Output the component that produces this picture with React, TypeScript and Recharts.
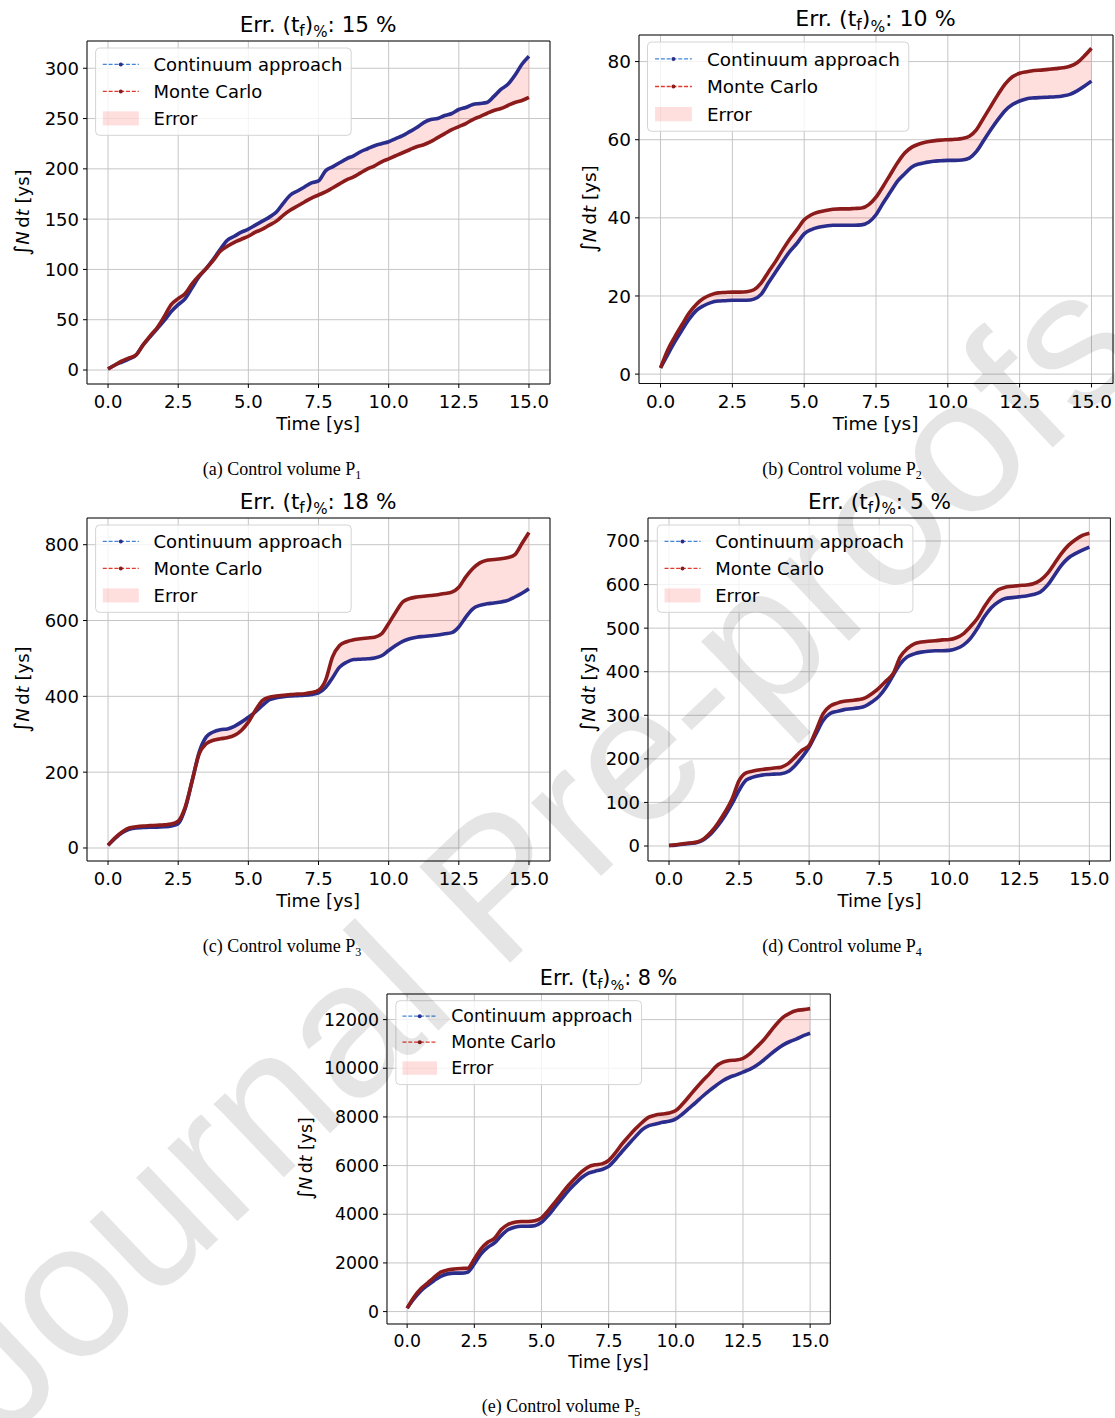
import { ComposedChart, Line, Area, XAxis, YAxis, CartesianGrid, ReferenceArea } from 'recharts';

// sample times [ys]
const TIME = [
  0, 0.25, 0.5, 0.75, 1, 1.25, 1.5, 1.75, 2, 2.25, 2.5, 2.75, 3, 3.25, 3.5, 3.75,
  4, 4.25, 4.5, 4.75, 5, 5.25, 5.5, 5.75, 6, 6.25, 6.5, 6.75, 7, 7.25, 7.5, 7.75,
  8, 8.25, 8.5, 8.75, 9, 9.25, 9.5, 9.75, 10, 10.25, 10.5, 10.75, 11, 11.25, 11.5, 11.75,
  12, 12.25, 12.5, 12.75, 13, 13.25, 13.5, 13.75, 14, 14.25, 14.5, 14.75, 15,
];

// P1
const P1_CONTINUUM = [
  1, 5, 8, 11, 15, 25, 33, 41, 49, 58, 65, 71, 82, 93, 101, 110,
  120, 129, 133, 137, 140, 144, 148, 152, 157, 166, 174, 178, 182, 186, 188, 198,
  202, 206, 210, 213, 217, 220, 223, 225, 227, 230, 233, 237, 241, 246, 249, 250,
  253, 255, 259, 261, 264, 265, 266, 272, 279, 284, 293, 304, 312,
];
const P1_MONTE_CARLO = [
  1, 5, 9, 12, 15, 25, 34, 42, 53, 65, 71, 76, 86, 94, 101, 109,
  118, 123, 127, 130, 133, 137, 140, 144, 148, 154, 159, 163, 167, 171, 174, 177,
  181, 185, 189, 192, 196, 200, 203, 207, 210, 213, 216, 219, 222, 224, 227, 231,
  235, 239, 242, 245, 249, 252, 255, 258, 260, 263, 266, 268, 271,
];

// P2
const P2_CONTINUUM = [
  1.6, 5, 8.3, 11.3, 14.1, 16.3, 17.5, 18.3, 18.7, 18.8, 18.9, 18.9, 18.9, 19.2, 20.4, 23.3,
  26.1, 28.8, 31.4, 33.5, 35.9, 37, 37.6, 37.9, 38.1, 38.1, 38.1, 38.1, 38.2, 38.9, 40.8, 43.8,
  46.6, 49.4, 51.3, 53, 53.8, 54.2, 54.5, 54.6, 54.7, 54.7, 54.8, 55.3, 57, 59.8, 62.6, 65.2,
  67.5, 69, 69.9, 70.5, 70.7, 70.8, 70.9, 71, 71.2, 71.6, 72.5, 73.7, 75,
];
const P2_MONTE_CARLO = [
  1.6, 6.2, 9.6, 12.7, 15.7, 17.9, 19.4, 20.3, 20.8, 20.9, 21, 21, 21.1, 21.6, 23.3, 26.1,
  28.8, 31.8, 34.6, 37, 39.5, 40.8, 41.5, 41.9, 42.2, 42.3, 42.3, 42.4, 42.5, 43.4, 45.3, 48.1,
  51.1, 54.1, 56.6, 58.1, 58.9, 59.4, 59.7, 59.9, 60, 60.1, 60.3, 60.9, 62.6, 65.6, 68.6, 71.6,
  74.3, 76.1, 77, 77.4, 77.7, 77.8, 78, 78.2, 78.4, 78.8, 79.7, 81.4, 83.4,
];

// P3
const P3_CONTINUUM = [
  7, 25, 40, 49, 53, 54, 55, 55, 56, 58, 64, 104, 178, 253, 293, 306,
  312, 314, 321, 332, 345, 359, 376, 391, 396, 399, 401, 402, 403, 405, 409, 423,
  449, 477, 490, 497, 498, 499, 501, 507, 521, 534, 545, 552, 556, 558, 560, 562,
  565, 568, 583, 609, 631, 640, 644, 646, 649, 653, 662, 672, 684,
];
const P3_MONTE_CARLO = [
  7, 27, 42, 53, 56, 58, 59, 60, 61, 63, 71, 108, 178, 249, 275, 284,
  288, 291, 297, 310, 332, 363, 389, 398, 401, 403, 405, 406, 407, 410, 416, 442,
  504, 534, 544, 549, 552, 554, 556, 565, 592, 622, 649, 658, 662, 664, 666, 668,
  671, 675, 688, 715, 737, 752, 759, 761, 763, 766, 774, 803, 832,
];

// P4
const P4_CONTINUUM = [
  1, 2, 4, 6, 8, 15, 28, 47, 70, 97, 128, 151, 158, 162, 164, 165,
  166, 171, 185, 204, 227, 258, 288, 304, 309, 313, 315, 317, 321, 331, 344, 365,
  392, 418, 434, 441, 445, 447, 448, 448, 449, 453, 461, 476, 499, 526, 547, 560,
  568, 570, 572, 574, 577, 583, 598, 621, 644, 661, 671, 679, 686,
];
const P4_MONTE_CARLO = [
  1, 3, 5, 7, 9, 17, 32, 53, 78, 108, 150, 168, 172, 175, 177, 179,
  181, 189, 204, 220, 231, 266, 304, 321, 328, 332, 334, 336, 340, 350, 363, 379,
  396, 434, 453, 464, 468, 470, 471, 473, 474, 478, 487, 503, 522, 549, 572, 588,
  594, 596, 598, 599, 602, 610, 625, 648, 671, 690, 703, 713, 718,
];

// P5
const P5_CONTINUUM = [
  140, 520, 840, 1070, 1270, 1450, 1550, 1580, 1580, 1620, 1960, 2370, 2640, 2820, 3120, 3360,
  3470, 3510, 3510, 3530, 3670, 3950, 4290, 4630, 4960, 5250, 5510, 5690, 5770, 5840, 5970, 6250,
  6580, 6890, 7190, 7480, 7640, 7710, 7780, 7820, 7920, 8120, 8360, 8600, 8850, 9080, 9290, 9490,
  9630, 9730, 9840, 9950, 10110, 10320, 10550, 10770, 10960, 11100, 11210, 11340, 11440,
];
const P5_MONTE_CARLO = [
  140, 590, 930, 1160, 1410, 1620, 1710, 1750, 1770, 1780, 2160, 2580, 2850, 3010, 3370, 3580,
  3670, 3700, 3700, 3730, 3850, 4150, 4490, 4840, 5180, 5480, 5750, 5950, 6030, 6070, 6210, 6520,
  6890, 7210, 7510, 7780, 7990, 8080, 8120, 8160, 8260, 8530, 8850, 9180, 9490, 9770, 10080, 10250,
  10320, 10340, 10410, 10590, 10860, 11140, 11480, 11820, 12100, 12270, 12370, 12410, 12450,
];

const X_TICKS = [0, 2.5, 5, 7.5, 10, 12.5, 15];
const P1_Y_TICKS = [0, 50, 100, 150, 200, 250, 300];
const P2_Y_TICKS = [0, 20, 40, 60, 80];
const P3_Y_TICKS = [0, 200, 400, 600, 800];
const P4_Y_TICKS = [0, 100, 200, 300, 400, 500, 600, 700];
const P5_Y_TICKS = [0, 2000, 4000, 6000, 8000, 10000, 12000];

const ERR_PERCENT = ['15', '10', '18', '5', '8'];
const SERIES_NAMES = ['Continuum approach', 'Monte Carlo', 'Error'];

const FONT = '"DejaVu Sans", sans-serif';
const SERIF = '"Liberation Serif", "Times New Roman", serif';
const BLUE = '#2b2d8c';
const RED = '#8c1b1b';
const BLUE_DASH = '#4286d8';
const RED_DASH = '#e2392f';

const Y_AXIS_W = 90;
const M_TOP = 6;
const M_RIGHT = 6;
const X_AXIS_H = 36;

type PanelSpec = {
  tag: string;
  idx: string;
  err: string;
  continuum: number[];
  monteCarlo: number[];
  yTicks: number[];
  yDomain: [number, number];
  plot: { x: number; y: number; w: number; h: number };
  fs: number;
  yLabelX: number;
  caption: { x: number; y: number };
};

const PANELS: PanelSpec[] = [
  {
    tag: 'a', idx: '1', err: ERR_PERCENT[0], continuum: P1_CONTINUUM, monteCarlo: P1_MONTE_CARLO,
    yTicks: P1_Y_TICKS, yDomain: [-13.9, 327.1], plot: { x: 86.6, y: 41, w: 463, h: 343 },
    fs: 18, yLabelX: 29, caption: { x: 282, y: 475 },
  },
  {
    tag: 'b', idx: '2', err: ERR_PERCENT[1], continuum: P2_CONTINUUM, monteCarlo: P2_MONTE_CARLO,
    yTicks: P2_Y_TICKS, yDomain: [-2.4, 86.8], plot: { x: 638.5, y: 35, w: 474, h: 348.5 },
    fs: 18.4, yLabelX: 596, caption: { x: 842, y: 475 },
  },
  {
    tag: 'c', idx: '3', err: ERR_PERCENT[2], continuum: P3_CONTINUUM, monteCarlo: P3_MONTE_CARLO,
    yTicks: P3_Y_TICKS, yDomain: [-34.3, 870.4], plot: { x: 86.6, y: 518, w: 463, h: 343 },
    fs: 18, yLabelX: 29, caption: { x: 282, y: 952 },
  },
  {
    tag: 'd', idx: '4', err: ERR_PERCENT[3], continuum: P4_CONTINUUM, monteCarlo: P4_MONTE_CARLO,
    yTicks: P4_Y_TICKS, yDomain: [-34.4, 752.8], plot: { x: 648.3, y: 518, w: 462.4, h: 343 },
    fs: 18, yLabelX: 595, caption: { x: 842, y: 952 },
  },
  {
    tag: 'e', idx: '5', err: ERR_PERCENT[4], continuum: P5_CONTINUUM, monteCarlo: P5_MONTE_CARLO,
    yTicks: P5_Y_TICKS, yDomain: [-510, 13052], plot: { x: 386.9, y: 993.7, w: 443.3, h: 330 },
    fs: 17.3, yLabelX: 312, caption: { x: 561, y: 1412 },
  },
];

function PanelChart({ p }: { p: PanelSpec }) {
  const rows = TIME.map((t, i) => {
    const a = p.continuum[i];
    const b = p.monteCarlo[i];
    return { t, cont: a, mc: b, band: [Math.min(a, b), Math.max(a, b)] };
  });
  const tick = { fontSize: p.fs, fill: '#000', fontFamily: FONT };
  return (
    <div style={{ position: 'absolute', left: p.plot.x - Y_AXIS_W, top: p.plot.y - M_TOP }}>
      <ComposedChart
        width={p.plot.w + Y_AXIS_W + M_RIGHT}
        height={p.plot.h + M_TOP + X_AXIS_H}
        data={rows}
        margin={{ top: M_TOP, right: M_RIGHT, bottom: 0, left: 0 }}
      >
        <CartesianGrid stroke="#c6c6c6" strokeWidth={1} />
        <XAxis
          dataKey="t"
          type="number"
          domain={[-0.75, 15.75]}
          ticks={X_TICKS}
          interval={0}
          allowDataOverflow
          tickFormatter={(v: number) => v.toFixed(1)}
          tick={tick}
          tickSize={4}
          tickMargin={p.fs * 0.38}
          tickLine={{ stroke: '#000' }}
          axisLine={false}
          height={X_AXIS_H}
        />
        <YAxis
          type="number"
          domain={p.yDomain}
          ticks={p.yTicks}
          interval={0}
          allowDataOverflow
          tick={tick}
          tickSize={4}
          tickMargin={4}
          tickLine={{ stroke: '#000' }}
          axisLine={false}
          width={Y_AXIS_W}
        />
        <Area
          dataKey="band"
          type="monotone"
          stroke="none"
          fill="#ff0000"
          fillOpacity={0.13}
          activeDot={false}
          isAnimationActive={false}
        />
        <Line dataKey="cont" type="monotone" stroke={BLUE} strokeWidth={3.6} dot={false} activeDot={false} isAnimationActive={false} />
        <Line dataKey="mc" type="monotone" stroke={RED} strokeWidth={3.6} dot={false} activeDot={false} isAnimationActive={false} />
        <ReferenceArea
          x1={-0.75}
          x2={15.75}
          y1={p.yDomain[0]}
          y2={p.yDomain[1]}
          fill="none"
          stroke="#111"
          strokeWidth={1}
          ifOverflow="visible"
        />
      </ComposedChart>
    </div>
  );
}

function PanelText({ p }: { p: PanelSpec }) {
  const { x, y, w, h } = p.plot;
  const fs = p.fs;
  const tfs = fs * 1.2;
  const cx = x + w / 2;
  const cy = y + h / 2;
  const lx = x + 9;
  const ly = y + 7;
  // legend rows, measured from the top of the plot
  const rowY = [y + 1.3 * fs, y + 2.8 * fs, y + 4.3 * fs];
  const hx1 = x + 0.9 * fs;
  const hx2 = x + 2.9 * fs;
  const tx = x + 3.72 * fs;
  return (
    <g>
      {/* title */}
      <text x={cx} y={y - 9} textAnchor="middle" fontSize={tfs} fontFamily={FONT} fill="#000">
        Err. (t
        <tspan dy={tfs * 0.2} fontSize={tfs * 0.7}>f</tspan>
        <tspan dy={-tfs * 0.2}>)</tspan>
        <tspan dy={tfs * 0.25} fontSize={tfs * 0.7}>%</tspan>
        <tspan dy={-tfs * 0.25}>: {p.err} %</tspan>
      </text>

      {/* axis labels */}
      <text x={cx} y={y + h + 2.55 * fs} textAnchor="middle" fontSize={fs} fontFamily={FONT} fill="#000">
        Time [ys]
      </text>
      <text
        transform={`translate(${p.yLabelX},${cy}) rotate(-90)`}
        textAnchor="middle"
        fontSize={fs}
        fontFamily={FONT}
        fill="#000"
      >
        <tspan fontSize={fs * 1.15}>∫</tspan>
        <tspan fontStyle="italic">N</tspan>
        {'\u2009d'}
        <tspan fontStyle="italic">t</tspan>
        {' [ys]'}
      </text>

      {/* legend */}
      <rect
        x={lx}
        y={ly}
        width={14.2 * fs}
        height={4.85 * fs}
        rx={4}
        fill="#fff"
        fillOpacity={0.8}
        stroke="#d4d4d4"
        strokeWidth={1}
      />
      <line x1={hx1} x2={hx2} y1={rowY[0]} y2={rowY[0]} stroke={BLUE_DASH} strokeWidth={1.3} strokeDasharray="4 1.8" />
      <circle cx={(hx1 + hx2) / 2} cy={rowY[0]} r={2} fill={BLUE} />
      <line x1={hx1} x2={hx2} y1={rowY[1]} y2={rowY[1]} stroke={RED_DASH} strokeWidth={1.3} strokeDasharray="4 1.8" />
      <circle cx={(hx1 + hx2) / 2} cy={rowY[1]} r={2} fill={RED} />
      <rect x={hx1} y={rowY[2] - 0.39 * fs} width={hx2 - hx1} height={0.78 * fs} fill="#ff0000" fillOpacity={0.13} />
      {SERIES_NAMES.map((name, i) => (
        <text key={name} x={tx} y={rowY[i] + 0.36 * fs} fontSize={fs} fontFamily={FONT} fill="#000">
          {name}
        </text>
      ))}

      {/* caption */}
      <text x={p.caption.x} y={p.caption.y} textAnchor="middle" fontSize={18} fontFamily={SERIF} fill="#000">
        ({p.tag}) Control volume P
        <tspan dy={4} fontSize={12}>{p.idx}</tspan>
      </text>
    </g>
  );
}

export default function App() {
  return (
    <div
      style={{
        position: 'absolute',
        left: 0,
        top: 0,
        width: 1115,
        height: 1418,
        background: '#fff',
        overflow: 'hidden',
      }}
    >
      {PANELS.map((p) => (
        <PanelChart key={p.tag} p={p} />
      ))}
      <svg
        width={1115}
        height={1418}
        style={{ position: 'absolute', left: 0, top: 0, pointerEvents: 'none' }}
      >
        {PANELS.map((p) => (
          <PanelText key={p.tag} p={p} />
        ))}
        <text
          x={576}
          y={900}
          textAnchor="middle"
          transform="rotate(-43.5 576 900)"
          fontSize={192}
          fontFamily='"Liberation Sans", Arial, sans-serif'
          fill="#000"
          fillOpacity={0.1}
        >
          Journal Pre-proofs
        </text>
      </svg>
    </div>
  );
}
